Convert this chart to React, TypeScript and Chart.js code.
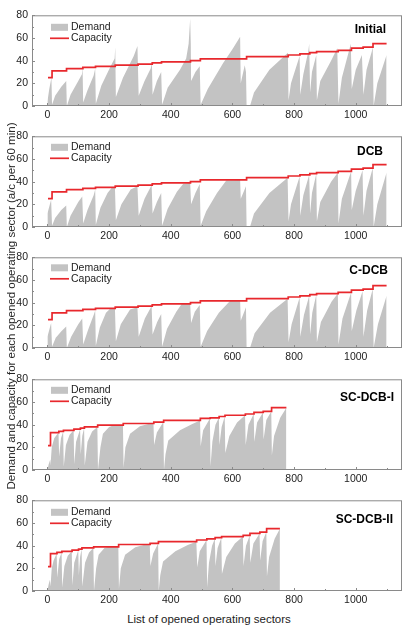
import React, { useEffect, useRef } from "react";
import { Chart, registerables } from "chart.js";

Chart.register(...registerables);

// ---------- axis ticks & labels ----------
const xTickValues = [0, 200, 400, 600, 800, 1000];
const xMinorTickValues = [100, 300, 500, 700, 900, 1100];
const yTickValues = [0, 20, 40, 60, 80];
const yMinorTickValues = [10, 30, 50, 70];
const panelTitles = ["Initial", "DCB", "C-DCB", "SC-DCB-I", "SC-DCB-II"];
const legendLabels = ["Demand", "Capacity"];
const yAxisTitle = "Demand and capacity for each opened operating sector (a/c per 60 min)";
const xAxisTitle = "List of opened operating sectors";

// ---------- capacity (step starts) ----------
const capX_full = [2, 15, 62, 115, 156, 220, 294, 340, 370, 464, 496, 646, 781, 819, 851, 873, 943, 986, 1024, 1056, 1100];
const capY_full = [25, 31, 33, 34, 35, 36, 37, 38, 39, 40, 41.5, 43.5, 45, 46, 47, 48, 49, 51, 52, 55, 55];

const capX_scI = [2, 10, 37, 52, 86, 107, 120, 163, 246, 345, 377, 496, 528, 557, 576, 642, 670, 700, 727, 775];
const capY_scI = [21.5, 33, 34, 35, 36, 37, 38, 39.5, 41, 42.3, 43.7, 45.5, 46, 47.2, 48.3, 49.4, 50.8, 51.7, 55, 55];

const capX_scII = [2, 10, 31, 47, 80, 101, 112, 150, 231, 333, 360, 484, 517, 544, 565, 635, 657, 689, 711, 754];
const capY_scII = [21.5, 33, 34, 35, 36, 37, 38, 39, 41, 42, 43.5, 45, 46, 47, 48, 49, 50.8, 52, 55, 55];

// ---------- demand (sawtooth vertices) ----------
const demX_initial = [0, 6, 13, 15, 25, 45, 61, 63, 75, 100, 112, 114, 116, 130, 150, 155, 157, 175, 205, 218, 220, 222, 245, 280, 292, 296, 315, 335, 339, 341, 355, 369, 372, 390, 430, 450, 458, 463, 465, 466, 480, 494, 497, 520, 570, 600, 625, 627, 640, 644, 646, 657, 670, 720, 780, 782, 790, 818, 820, 830, 846, 849, 852, 858, 872, 874, 885, 920, 940, 944, 955, 984, 987, 1000, 1020, 1025, 1035, 1052, 1055, 1058, 1070, 1100];
const demY_initial = [4, 15, 25, 1, 9, 17, 22, 0, 10, 22, 28, 34, 3, 14, 27, 33, 2, 18, 35, 42, 52, 8, 25, 44, 53, 9, 22, 33, 38, 10, 22, 30, 1, 16, 32, 42, 55, 77, 55, 22, 30, 35, 1, 15, 38, 50, 61, 20, 36, 30, 0, 0, 12, 32, 47, 5, 20, 44, 10, 28, 48, 55, 12, 30, 45, 5, 22, 40, 51, 2, 25, 55, 15, 32, 45, 10, 32, 48, 52, 0, 20, 45];

const demX_dcb = [0, 12, 15, 25, 45, 61, 63, 75, 100, 113, 116, 130, 150, 155, 157, 172, 195, 210, 219, 222, 240, 270, 292, 296, 315, 338, 341, 355, 369, 372, 390, 420, 440, 463, 466, 480, 494, 497, 515, 550, 580, 625, 627, 644, 646, 657, 670, 720, 779, 782, 790, 818, 820, 830, 849, 852, 858, 872, 874, 885, 920, 942, 944, 955, 985, 987, 1000, 1022, 1025, 1035, 1055, 1058, 1070, 1100];
const demY_dcb = [12, 24, 1, 8, 15, 19, 0, 10, 22, 27, 3, 15, 28, 33, 2, 17, 30, 35, 35, 6, 20, 33, 36, 10, 25, 37, 12, 22, 30, 1, 16, 31, 38, 39, 20, 30, 38, 1, 14, 30, 41, 41.5, 25, 36, 0, 0, 12, 30, 43.5, 5, 20, 44.5, 10, 28, 46, 12, 30, 47, 5, 22, 40, 48, 3, 25, 49, 15, 32, 50, 10, 32, 52, 0, 20, 48];

const demX_cdcb = [0, 12, 15, 27, 46, 61, 63, 77, 100, 113, 116, 132, 150, 155, 157, 170, 190, 205, 219, 222, 238, 268, 292, 296, 316, 338, 341, 356, 369, 372, 388, 418, 436, 463, 466, 478, 494, 497, 518, 556, 592, 625, 627, 644, 646, 657, 672, 722, 779, 782, 792, 818, 820, 832, 849, 852, 859, 872, 874, 887, 922, 942, 944, 957, 985, 987, 1002, 1022, 1025, 1037, 1055, 1058, 1072, 1100];
const demY_cdcb = [10, 22, 1, 9, 15, 19, 0, 10, 21, 26, 3, 16, 29, 33, 2, 18, 31, 35, 35, 6, 21, 34, 36, 10, 26, 37, 12, 23, 30, 1, 17, 32, 39, 39, 22, 32, 38, 1, 15, 31, 41.5, 41.5, 24, 36, 0, 0, 13, 31, 43.5, 5, 21, 44.5, 10, 29, 46, 12, 31, 47, 5, 23, 41, 48, 3, 26, 49, 15, 33, 50, 10, 33, 52, 0, 21, 46];

const demX_scI = [0, 4, 9, 10, 14, 22, 36, 38, 44, 51, 53, 60, 72, 85, 87, 93, 106, 108, 113, 119, 121, 130, 145, 162, 164, 172, 180, 200, 215, 245, 247, 253, 268, 300, 330, 344, 346, 355, 376, 378, 383, 392, 430, 470, 495, 497, 505, 527, 529, 535, 545, 556, 558, 565, 575, 577, 590, 615, 641, 643, 652, 669, 671, 680, 699, 701, 710, 726, 728, 735, 755, 775];
const demY_scI = [0, 5, 9, 4, 20, 28, 33, 12, 28, 34, 3, 22, 31, 35, 5, 25, 36, 14, 30, 37, 4, 25, 34, 38, 0, 20, 32, 38, 39.5, 39.5, 2, 20, 32, 38.5, 40.8, 41, 22, 33, 42.3, 0, 14, 26, 35, 40.5, 43.7, 21, 35, 45.5, 3, 25, 40, 46, 22, 38, 47.2, 15, 30, 42, 48.3, 22, 40, 49.4, 25, 42, 50.8, 27, 44, 51.7, 13, 30, 46, 55];

const demX_scII = [0, 4, 8, 10, 14, 20, 30, 32, 38, 46, 48, 55, 66, 79, 81, 87, 100, 102, 106, 111, 113, 122, 135, 149, 151, 158, 166, 185, 200, 230, 232, 238, 252, 285, 315, 332, 334, 343, 359, 361, 366, 375, 415, 455, 483, 486, 494, 516, 518, 524, 534, 543, 545, 552, 564, 566, 580, 608, 634, 636, 644, 656, 658, 668, 688, 690, 698, 710, 712, 719, 737, 754];
const demY_scII = [0, 6, 10, 4, 20, 27, 33, 12, 28, 34, 3, 22, 31, 35, 5, 25, 36, 14, 30, 37, 4, 25, 34, 38, 0, 20, 32, 38, 39, 39, 2, 20, 32, 38.5, 40.8, 41, 22, 33, 42, 0, 14, 26, 35, 40.5, 43.5, 21, 35, 45, 3, 25, 40, 46, 22, 38, 47, 15, 30, 42, 48, 22, 40, 49, 25, 42, 50.8, 27, 44, 52, 13, 30, 46, 55];

// ---------- styles / layout ----------
const DEMAND_COLOR = "#c3c3c3";
const CAP_COLOR = "#e8282d";
const FRAME_COLOR = "#8a8a8a";
const TEXT_COLOR = "#222";
const FONT = "'Liberation Sans', Arial, sans-serif";
const W = 406;
const PAD_TOP = 6;
const PLOT_H = 95;
const XAXIS_H = 20;
const plotTops = [11, 132, 253, 375, 496];
const titleRightOffsets = [16, 19, 14, 8, 9];
const titleYOffsets = [14, 15.5, 13.5, 18, 19];
const legendYOffsets = [12, 11, 10.5, 11, 12];

const panelDemX = [demX_initial, demX_dcb, demX_cdcb, demX_scI, demX_scII];
const panelDemY = [demY_initial, demY_dcb, demY_cdcb, demY_scI, demY_scII];
const panelCapX = [capX_full, capX_full, capX_full, capX_scI, capX_scII];
const panelCapY = [capY_full, capY_full, capY_full, capY_scI, capY_scII];

const toPoints = (xs: number[], ys: number[]) => xs.map((x, i) => ({ x, y: ys[i] }));

const decorPlugin = {
  id: "decor",
  afterDatasetsDraw(chart: any, _args: any, opts: any) {
    const { ctx, chartArea: a, scales } = chart;
    const xs = scales.x;
    const ys = scales.y;
    ctx.save();
    ctx.strokeStyle = FRAME_COLOR;
    ctx.lineWidth = 1;
    ctx.strokeRect(a.left + 0.5, a.top + 0.5, a.right - a.left - 1, a.bottom - a.top - 1);
    ctx.beginPath();
    const xt = (v: number, len: number) => {
      const px = Math.round(xs.getPixelForValue(v)) + 0.5;
      ctx.moveTo(px, a.bottom);
      ctx.lineTo(px, a.bottom - len);
    };
    const yt = (v: number, len: number) => {
      const py = Math.round(ys.getPixelForValue(v)) + 0.5;
      ctx.moveTo(a.left, py);
      ctx.lineTo(a.left + len, py);
    };
    xTickValues.forEach((v) => xt(v, 3));
    xMinorTickValues.forEach((v) => xt(v, 2));
    yTickValues.forEach((v) => yt(v, 3));
    yMinorTickValues.forEach((v) => yt(v, 2));
    ctx.stroke();
    const ly = a.top + opts.legendY;
    ctx.fillStyle = DEMAND_COLOR;
    ctx.fillRect(a.left + 19, ly - 3.5, 17, 7);
    ctx.strokeStyle = CAP_COLOR;
    ctx.lineWidth = 1.7;
    ctx.beginPath();
    ctx.moveTo(a.left + 18, ly + 11);
    ctx.lineTo(a.left + 37, ly + 11);
    ctx.stroke();
    ctx.fillStyle = TEXT_COLOR;
    ctx.font = `10.5px ${FONT}`;
    ctx.textAlign = "left";
    ctx.textBaseline = "middle";
    ctx.fillText(legendLabels[0], a.left + 39, ly);
    ctx.fillText(legendLabels[1], a.left + 39, ly + 11);
    ctx.fillStyle = "#000";
    ctx.font = `bold 12px ${FONT}`;
    ctx.textAlign = "right";
    ctx.fillText(opts.title, a.right - opts.titleRight, a.top + opts.titleY);
    ctx.restore();
  },
};

function Panel({ index }: { index: number }) {
  const ref = useRef<HTMLCanvasElement | null>(null);
  useEffect(() => {
    if (!ref.current) return;
    const chart = new Chart(ref.current, {
      type: "line",
      data: {
        datasets: [
          {
            label: legendLabels[1],
            data: toPoints(panelCapX[index], panelCapY[index]),
            borderColor: CAP_COLOR,
            borderWidth: 1.7,
            pointRadius: 0,
            stepped: "before",
            fill: false,
            order: 0,
          } as any,
          {
            label: legendLabels[0],
            data: toPoints(panelDemX[index], panelDemY[index]),
            borderWidth: 0,
            borderColor: "rgba(0,0,0,0)",
            backgroundColor: DEMAND_COLOR,
            pointRadius: 0,
            tension: 0,
            fill: "origin",
            order: 1,
          } as any,
        ],
      },
      options: {
        animation: false,
        responsive: false,
        maintainAspectRatio: false,
        events: [],
        layout: { padding: { top: PAD_TOP, right: 4, left: 0, bottom: 0 } },
        plugins: {
          legend: { display: false },
          tooltip: { enabled: false },
          decor: {
            title: panelTitles[index],
            titleRight: titleRightOffsets[index],
            titleY: titleYOffsets[index],
            legendY: legendYOffsets[index],
          },
        } as any,
        scales: {
          x: {
            type: "linear",
            min: -50,
            max: 1150,
            afterBuildTicks: (s: any) => {
              s.ticks = xTickValues.map((value) => ({ value }));
            },
            afterFit: (s: any) => {
              s.height = XAXIS_H;
            },
            grid: { display: false, drawTicks: false },
            border: { display: false },
            ticks: {
              padding: 3,
              color: TEXT_COLOR,
              font: { family: FONT, size: 10.5 },
              maxRotation: 0,
              autoSkip: false,
              callback: (v: any) => String(v),
            },
          },
          y: {
            type: "linear",
            min: 0,
            max: 80,
            afterBuildTicks: (s: any) => {
              s.ticks = yTickValues.map((value) => ({ value }));
            },
            afterFit: (s: any) => {
              s.width = 32;
            },
            grid: { display: false, drawTicks: false },
            border: { display: false },
            ticks: {
              padding: 4,
              color: TEXT_COLOR,
              font: { family: FONT, size: 10.5 },
              autoSkip: false,
              callback: (v: any) => String(v),
            },
          },
        },
      } as any,
      plugins: [decorPlugin],
    });
    return () => chart.destroy();
  }, [index]);
  const h = PAD_TOP + PLOT_H + XAXIS_H;
  return (
    <div style={{ position: "absolute", left: 0, top: plotTops[index] - PAD_TOP, width: W, height: h }}>
      <canvas ref={ref} width={W} height={h} style={{ width: W, height: h, display: "block" }} />
    </div>
  );
}

export default function App() {
  return (
    <div style={{ position: "absolute", left: 0, top: 0, width: W, height: 627, background: "#fff", overflow: "hidden" }}>
      {panelTitles.map((_, i) => (
        <Panel key={i} index={i} />
      ))}
      <div
        style={{
          position: "absolute",
          left: 11 - 250,
          top: 306 - 8,
          width: 500,
          height: 16,
          lineHeight: "16px",
          textAlign: "center",
          transform: "rotate(-90deg)",
          transformOrigin: "50% 50%",
          fontFamily: FONT,
          fontSize: 11.5,
          color: TEXT_COLOR,
          whiteSpace: "nowrap",
        }}
      >
        {yAxisTitle}
      </div>
      <div
        style={{
          position: "absolute",
          left: 0,
          width: 418,
          top: 611,
          height: 16,
          lineHeight: "16px",
          textAlign: "center",
          fontFamily: FONT,
          fontSize: 11.5,
          color: TEXT_COLOR,
          whiteSpace: "nowrap",
        }}
      >
        {xAxisTitle}
      </div>
    </div>
  );
}
